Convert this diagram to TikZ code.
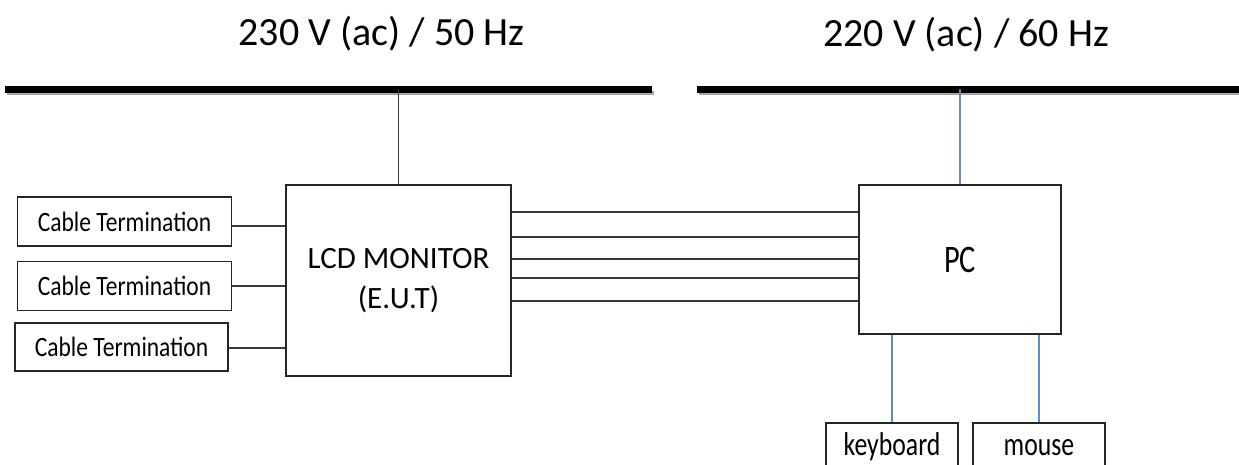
\documentclass[tikz,border=0pt]{standalone}
\usepackage{fontspec}
\setmainfont{Carlito}
\newfontfamily\narrowa[FakeStretch=0.84]{Carlito}
\newfontfamily\narrowb[FakeStretch=0.78]{Carlito}
\definecolor{boxline}{HTML}{262626}
\definecolor{wire}{HTML}{3A3A3A}
\definecolor{bluewire}{HTML}{5B8BC9}
\begin{document}
\begin{tikzpicture}[x=1pt,y=-1pt,
  box/.style={draw=boxline,line width=1.8pt,inner sep=0pt,fill=white},
  ctbox/.style={box,minimum width=214pt,minimum height=49pt,font=\narrowa\fontsize{28}{32}\selectfont},
  smallbox/.style={box,anchor=north,minimum width=132pt,text height=33pt,text depth=22pt,font=\narrowb\fontsize{33}{36}\selectfont},
  title/.style={anchor=base,inner sep=0pt,font=\fontsize{40}{44}\selectfont},
  wirel/.style={draw=wire,line width=1.8pt},
  bwire/.style={draw=bluewire,line width=1.2pt},
  bus/.style={line width=7pt},
  busshadow/.style={line width=4pt,draw=black!35}]
\clip (0,0) rectangle (1239,465);
\fill[white] (0,0) rectangle (1239,465);

% titles
\node[title] (t1) at (381.5,46) {230 V (ac) / 50 Hz};
\node[title] (t2) at (966,47) {220 V (ac) / 60 Hz};

% buses
\coordinate (b1l) at (5,89.5);
\coordinate (b1r) at (652,89.5);
\coordinate (b2l) at (697,89.5);
\coordinate (b2r) at (1245,89.5);
\draw[busshadow] ([shift={(2,3.5)}]b1l) -- ([shift={(2,3.5)}]b1r);
\draw[busshadow] ([shift={(2,3.5)}]b2l) -- ([shift={(2,3.5)}]b2r);
\draw[bus] (b1l) -- (b1r);
\draw[bus] (b2l) -- (b2r);

% boxes
\node[ctbox] (ct1) at (124.5,221.5) {Cable Termination};
\node[ctbox] (ct2) at (124.5,286) {Cable Termination};
\node[ctbox,minimum width=213pt,minimum height=48pt] (ct3) at (121.5,347) {Cable Termination};
\node[box,minimum width=225pt,minimum height=191pt,align=center,
      font=\fontsize{31}{40}\selectfont] (lcd) at (398.5,280.5) {LCD MONITOR\\(E.U.T)};
\node[box,minimum width=202pt,minimum height=149pt,
      font=\narrowb\fontsize{39}{40}\selectfont] (pc) at (960,259.5) {PC};
\node[smallbox] (kb) at (892,422) {keyboard};
\node[smallbox] (ms) at (1039,422) {mouse};

% power connections
\draw[wirel,line width=1.3pt] (lcd.north) -- (lcd.north |- b1l);
\draw[bwire] (pc.north) -- (pc.north |- b2l);

% cable terminations
\coordinate (c1) at (0,226);
\coordinate (c2) at (0,286);
\coordinate (c3) at (0,348);
\draw[wirel] (ct1.east |- c1) -- (lcd.west |- c1);
\draw[wirel] (ct2.east |- c2) -- (lcd.west |- c2);
\draw[wirel] (ct3.east |- c3) -- (lcd.west |- c3);

% LCD to PC cables
\foreach \i/\yy in {1/212,2/237,3/259,4/278,5/301}{
  \coordinate (h\i) at (0,\yy);
  \draw[wirel] (lcd.east |- h\i) -- (pc.west |- h\i);
}

% peripherals
\draw[bwire] (kb.north |- pc.south) -- (kb.north);
\draw[bwire] (ms.north |- pc.south) -- (ms.north);
\end{tikzpicture}
\end{document}
